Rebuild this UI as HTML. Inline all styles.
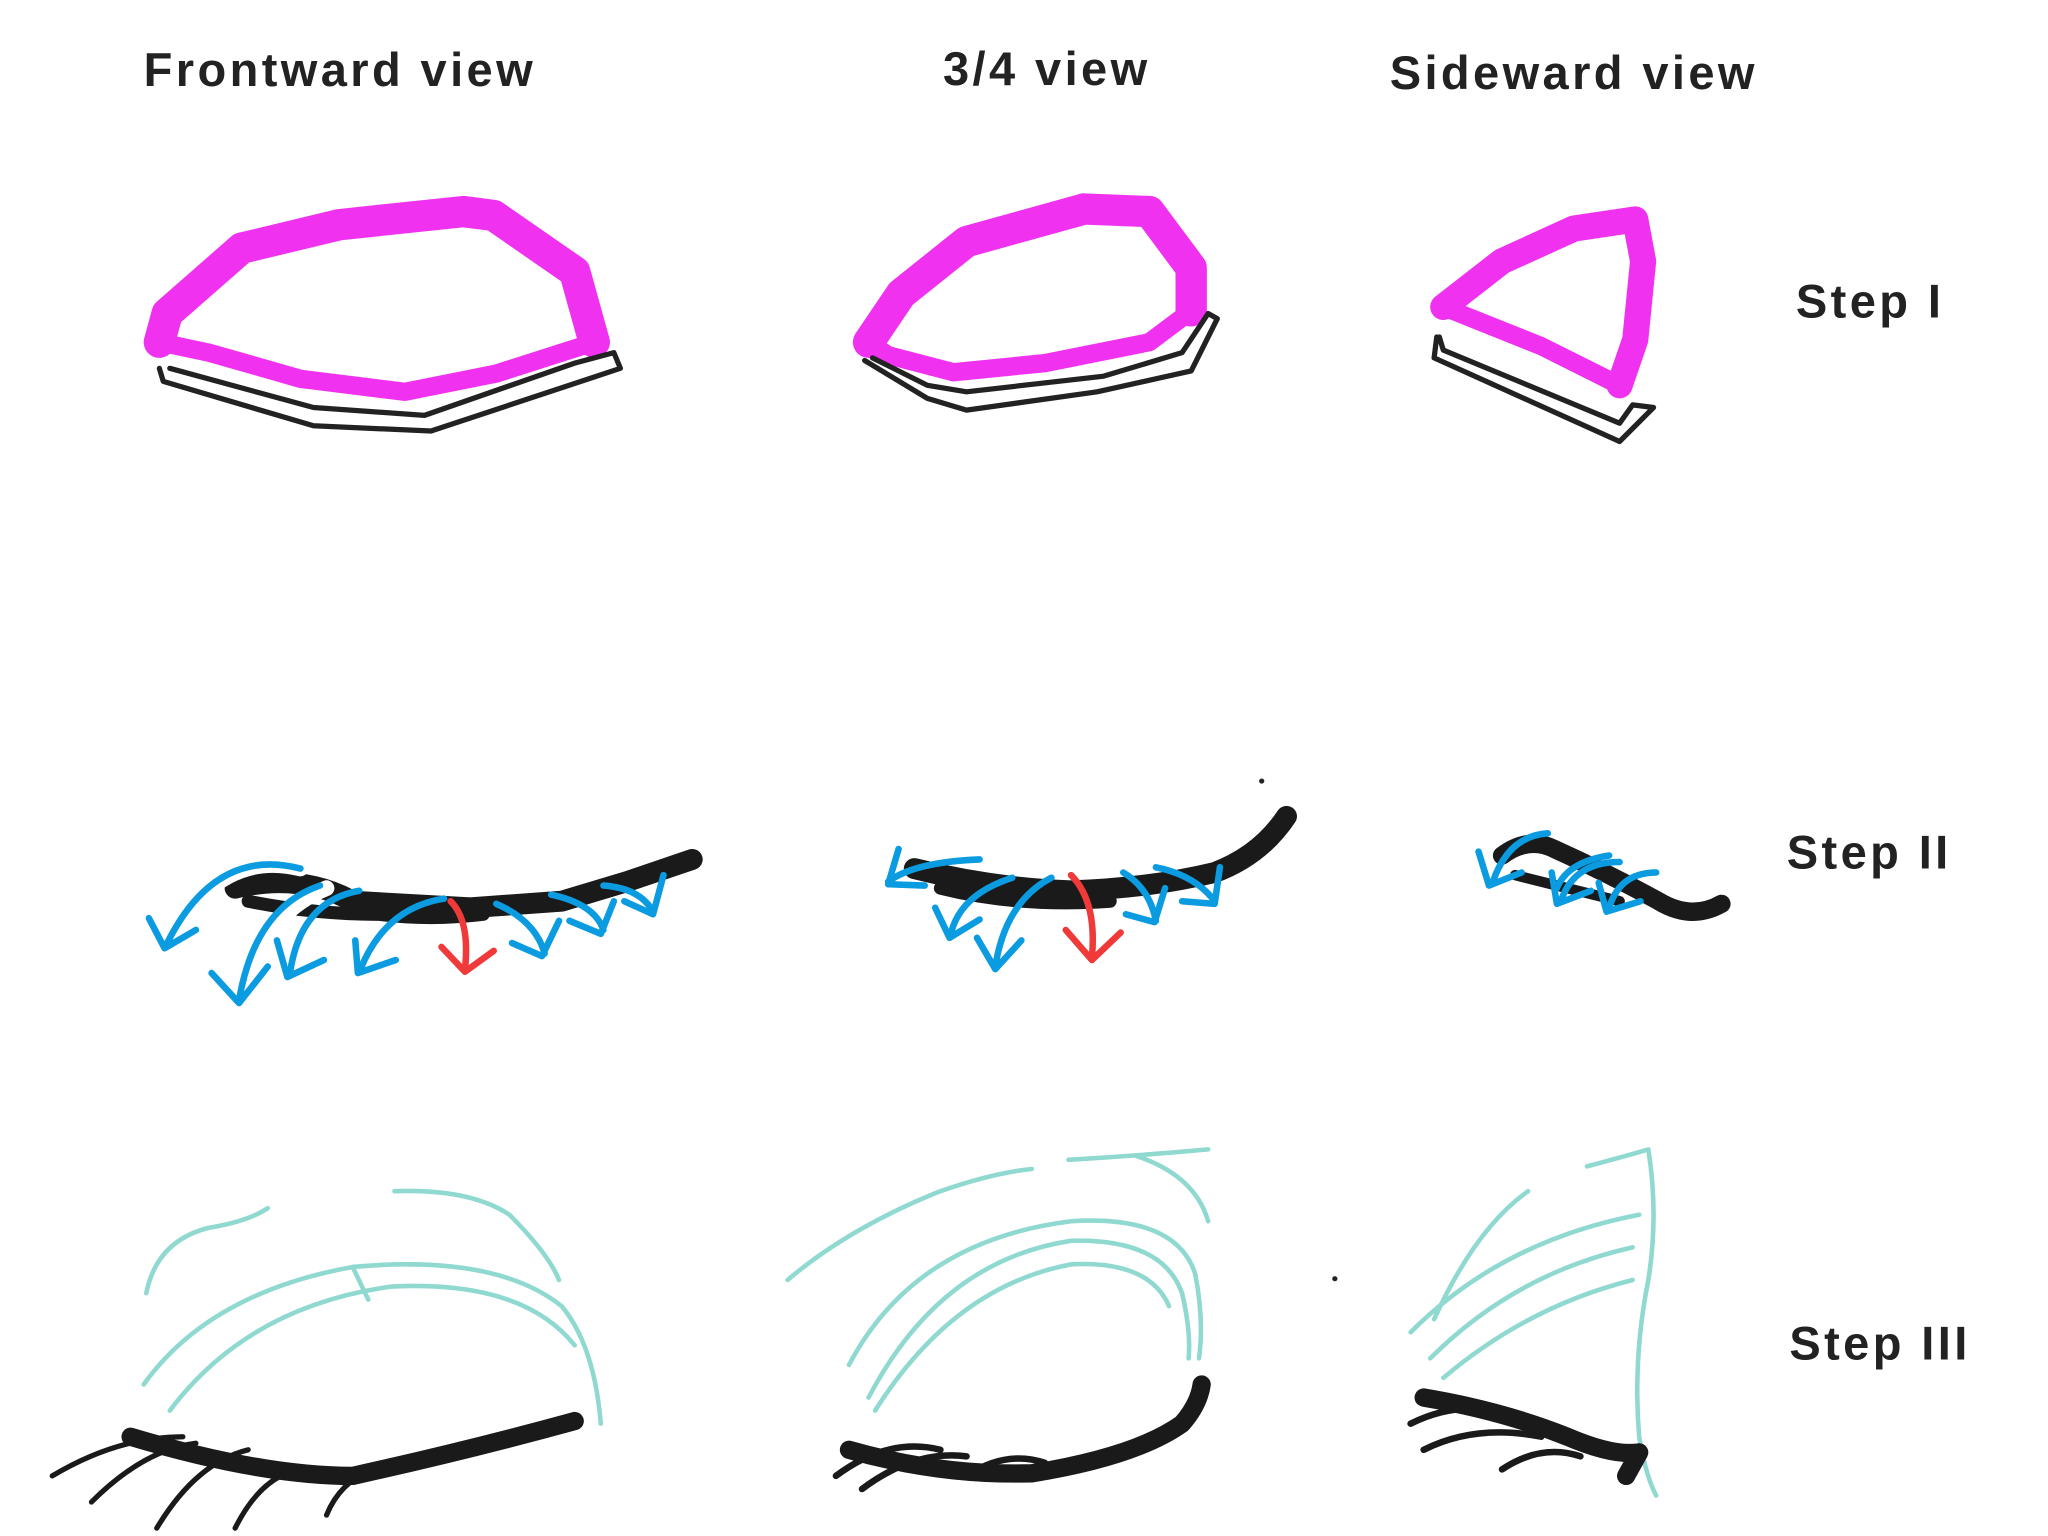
<!DOCTYPE html>
<html><head><style>
html,body{margin:0;padding:0;background:#fff;}
svg{display:block;}
text{font-family:"Liberation Sans",sans-serif;font-weight:bold;fill:#222;font-size:36px;letter-spacing:2.6px;}
</style></head><body>
<svg width="2048" height="1536" viewBox="0 0 1568 1176" xmlns="http://www.w3.org/2000/svg">
<text x="110" y="66">Frontward view</text>
<text x="722" y="65">3/4 view</text>
<text x="1064" y="68">Sideward view</text>
<text x="1375" y="243">Step I</text>
<text x="1368" y="665">Step II</text>
<text x="1370" y="1041">Step III</text>

<g fill="none" stroke-linejoin="round" stroke-linecap="round">
<!-- Step I magenta -->
<path d="M122,262 L128,240 L185,190 L260,172 L355,162 L378,165 L440,208 L455,262" stroke="#f032f0" stroke-width="24"/>
<path d="M455,262 L380,286 L310,300 L230,290 L160,270 L122,262" stroke="#f032f0" stroke-width="14"/>
<path d="M665,262 L690,225 L740,185 L830,160 L880,162 L912,205 L912,238" stroke="#f032f0" stroke-width="24"/>
<path d="M912,238 L880,262 L800,278 L730,285 L680,272 L665,262" stroke="#f032f0" stroke-width="14"/>
<path d="M1105,235 L1150,200 L1205,175 L1252,168 L1258,200 L1252,260 L1240,295" stroke="#f032f0" stroke-width="20"/>
<path d="M1240,295 L1180,265 L1105,235" stroke="#f032f0" stroke-width="14"/>
<!-- lids -->
<path d="M122,282 L125,292 L240,326 L330,330 L475,282 L470,270 L440,278 L325,318 L240,312 L130,282" stroke="#222" stroke-width="4"/>
<path d="M662,276 L710,305 L740,314 L840,300 L912,284 L932,244 L925,240 L905,270 L845,288 L740,300 L710,295 L668,274" stroke="#222" stroke-width="4"/>
<path d="M1100,258 L1098,274 L1240,338 L1266,312 L1250,310 L1240,324 L1105,268 L1102,258" stroke="#222" stroke-width="4"/>

<!-- Step II black -->
<path d="M180,680 Q230,668 270,690 L360,695 L430,690 L480,675 L530,658" stroke="#1a1a1a" stroke-width="16"/>
<path d="M190,690 Q240,700 290,700 Q330,705 370,700" stroke="#1a1a1a" stroke-width="10"/>
<path d="M700,665 Q760,680 820,682 Q880,680 930,668 Q965,655 985,625" stroke="#1a1a1a" stroke-width="16"/>
<path d="M720,680 Q780,695 850,690" stroke="#1a1a1a" stroke-width="10"/>
<path d="M1150,655 Q1170,640 1190,650 Q1230,668 1270,690 Q1295,705 1318,692" stroke="#1a1a1a" stroke-width="14"/>
<path d="M1160,670 Q1200,680 1240,690" stroke="#1a1a1a" stroke-width="8"/>
<g stroke="#fff" stroke-width="12">
<path d="M230,665 Q170,650 130,718"/><path d="M250,680 Q200,700 183,765"/>
</g>
<g stroke="#0a9be0" stroke-width="5">
<path d="M230,665 Q165,648 128,722"/><path d="M114,703 L126,726 L150,712"/>
<path d="M245,678 Q195,695 183,766"/><path d="M162,745 L183,768 L205,740"/>
<path d="M275,682 Q230,690 222,745"/><path d="M212,720 L220,748 L248,735"/>
<path d="M340,688 Q295,695 276,742"/><path d="M272,720 L274,745 L303,735"/>
<path d="M380,692 Q410,705 417,730"/><path d="M392,722 L415,732 L428,705"/>
<path d="M422,685 Q455,692 462,712"/><path d="M436,705 L460,715 L470,690"/>
<path d="M462,678 Q490,680 500,698"/><path d="M478,690 L500,700 L508,670"/>
<path d="M750,658 Q700,660 680,675"/><path d="M688,650 L680,677 L708,678"/>
<path d="M775,672 Q735,685 728,715"/><path d="M716,695 L727,718 L750,704"/>
<path d="M805,672 Q770,690 762,740"/><path d="M748,718 L762,742 L782,720"/>
<path d="M860,668 Q880,680 885,705"/><path d="M862,700 L884,706 L892,680"/>
<path d="M885,664 Q915,670 930,690"/><path d="M905,690 L930,692 L934,664"/>
<path d="M1185,638 Q1155,640 1143,675"/><path d="M1132,652 L1140,678 L1165,668"/>
<path d="M1240,660 Q1205,660 1195,690"/><path d="M1188,668 L1192,692 L1218,682"/>
<path d="M1268,668 Q1240,668 1232,695"/><path d="M1224,676 L1230,698 L1256,690"/>
<path d="M1232,655 Q1200,660 1192,680"/>
</g>
<g stroke="#f03a3a" stroke-width="5">
<path d="M345,690 Q360,705 356,742"/><path d="M338,725 L356,744 L378,728"/>
<path d="M820,670 Q840,690 836,733"/><path d="M816,712 L836,735 L858,714"/>
</g>

<!-- Step III cyan -->
<g stroke="#8fd9d0" stroke-width="3.5">
<path d="M112,990 Q120,950 160,940 Q190,935 205,925"/>
<path d="M302,912 Q360,910 390,930 Q420,960 428,980"/>
<path d="M110,1060 Q160,990 270,970 Q380,960 430,1000 Q455,1030 460,1090"/>
<path d="M130,1080 Q190,1000 300,985 Q400,980 440,1030"/>
<path d="M270,970 L282,995"/>
<path d="M603,980 Q650,940 720,912 Q760,898 790,895"/>
<path d="M818,888 Q870,885 925,880"/>
<path d="M870,885 Q915,900 925,935"/>
<path d="M650,1045 Q700,950 820,935 Q900,930 915,975 Q922,1010 918,1040"/>
<path d="M665,1070 Q720,965 820,950 Q890,948 905,990 Q912,1020 910,1040"/>
<path d="M670,1080 Q730,985 820,968 Q880,965 895,1000"/>
<path d="M1098,1010 Q1130,940 1170,912"/>
<path d="M1215,893 Q1245,885 1262,880 Q1270,930 1262,980 Q1250,1040 1255,1100 Q1260,1130 1268,1145"/>
<path d="M1080,1020 Q1150,950 1255,930"/>
<path d="M1095,1040 Q1160,975 1250,955"/>
<path d="M1105,1055 Q1170,1000 1250,980"/>
</g>
<path d="M100,1100 Q200,1130 270,1130 Q360,1110 440,1088" stroke="#1a1a1a" stroke-width="14"/>
<path d="M40,1130 Q90,1100 140,1100 M70,1150 Q110,1110 150,1105 M120,1170 Q150,1120 190,1110 M180,1170 Q200,1130 230,1125 M250,1160 Q260,1135 285,1125" stroke="#1a1a1a" stroke-width="4"/>
<path d="M650,1110 Q720,1130 790,1128 Q870,1115 905,1090 Q918,1075 920,1060" stroke="#1a1a1a" stroke-width="14"/>
<path d="M640,1130 Q680,1100 720,1110 M660,1140 Q700,1110 740,1115 M740,1130 Q770,1110 800,1120" stroke="#1a1a1a" stroke-width="5"/>
<path d="M1090,1070 Q1150,1080 1200,1100 Q1235,1115 1255,1112 L1245,1130" stroke="#1a1a1a" stroke-width="14"/>
<path d="M1080,1090 Q1120,1070 1160,1085 M1090,1110 Q1130,1090 1180,1100 M1150,1125 Q1180,1105 1210,1115" stroke="#1a1a1a" stroke-width="5"/>
</g>
<circle cx="966" cy="598" r="2" fill="#222"/>
<circle cx="1022" cy="979" r="2" fill="#222"/>
</svg>
</body></html>
